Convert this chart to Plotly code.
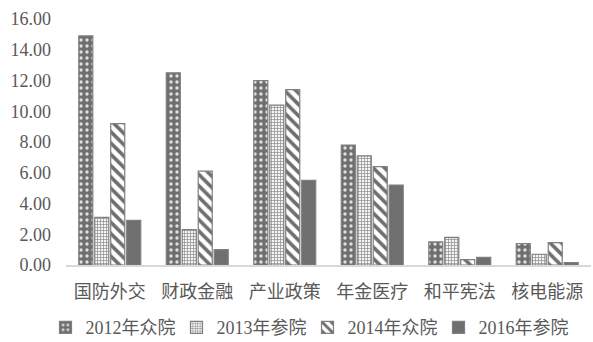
import plotly.graph_objects as go

categories = ["国防外交", "财政金融", "产业政策", "年金医疗", "和平宪法", "核电能源"]
series_names = ["2012年众院", "2013年参院", "2014年众院", "2016年参院"]
v2012 = [14.9, 12.5, 12.0, 7.8, 1.5, 1.4]
v2013 = [3.1, 2.3, 10.4, 7.1, 1.8, 0.7]
v2014 = [9.2, 6.1, 11.4, 6.4, 0.35, 1.45]
v2016 = [2.9, 1.0, 5.5, 5.2, 0.5, 0.15]
y_ticks = [0, 2, 4, 6, 8, 10, 12, 14, 16]

edge = "#7f7f7f"
styles = [
    dict(bgcolor="#6f6f6f", fgcolor="#e0e0e0", shape=".", size=6, solidity=0.25),
    dict(bgcolor="#f4f4f4", fgcolor="#8c8c8c", shape="+", size=3, solidity=0.4),
    dict(bgcolor="#ffffff", fgcolor="#6f6f6f", shape="\\", size=8, solidity=0.45),
    None,
]

fig = go.Figure()
for name, vals, st in zip(series_names, [v2012, v2013, v2014, v2016], styles):
    if st is None:
        marker = dict(color="#6f6f6f", line=dict(color=edge, width=1.2))
    else:
        marker = dict(color=st["bgcolor"], line=dict(color=edge, width=1.2),
                      pattern=dict(fillmode="replace", **st))
    fig.add_trace(go.Bar(x=categories, y=vals, name=name, marker=marker))

fig.update_layout(
    width=593, height=342,
    margin=dict(l=66, r=2, t=19, b=77, autoexpand=False),
    paper_bgcolor="white", plot_bgcolor="white",
    barmode="group", bargap=0.27, bargroupgap=0.12,
    font=dict(family="Liberation Serif, Noto Sans CJK SC", color="#595959", size=18),
    showlegend=True,
    legend=dict(orientation="h", x=0.46, xanchor="center", y=-0.255, yanchor="middle",
                font=dict(family="Liberation Serif, Noto Sans CJK SC", size=18, color="#595959"),
                itemwidth=30, entrywidth=86, entrywidthmode="pixels"),
)
fig.update_xaxes(showline=True, linecolor="#d9d9d9", linewidth=1.5, ticks="",
                 ticklabelstandoff=10,
                 tickfont=dict(family="Noto Sans CJK SC", size=18, color="#595959"))
fig.update_yaxes(range=[0, 16], tickvals=y_ticks, tickformat=".2f", showgrid=False,
                 zeroline=False, showline=False, ticks="", ticklabelstandoff=14,
                 tickfont=dict(family="Liberation Serif", size=18, color="#595959"))

fig.write_html("out.html")
